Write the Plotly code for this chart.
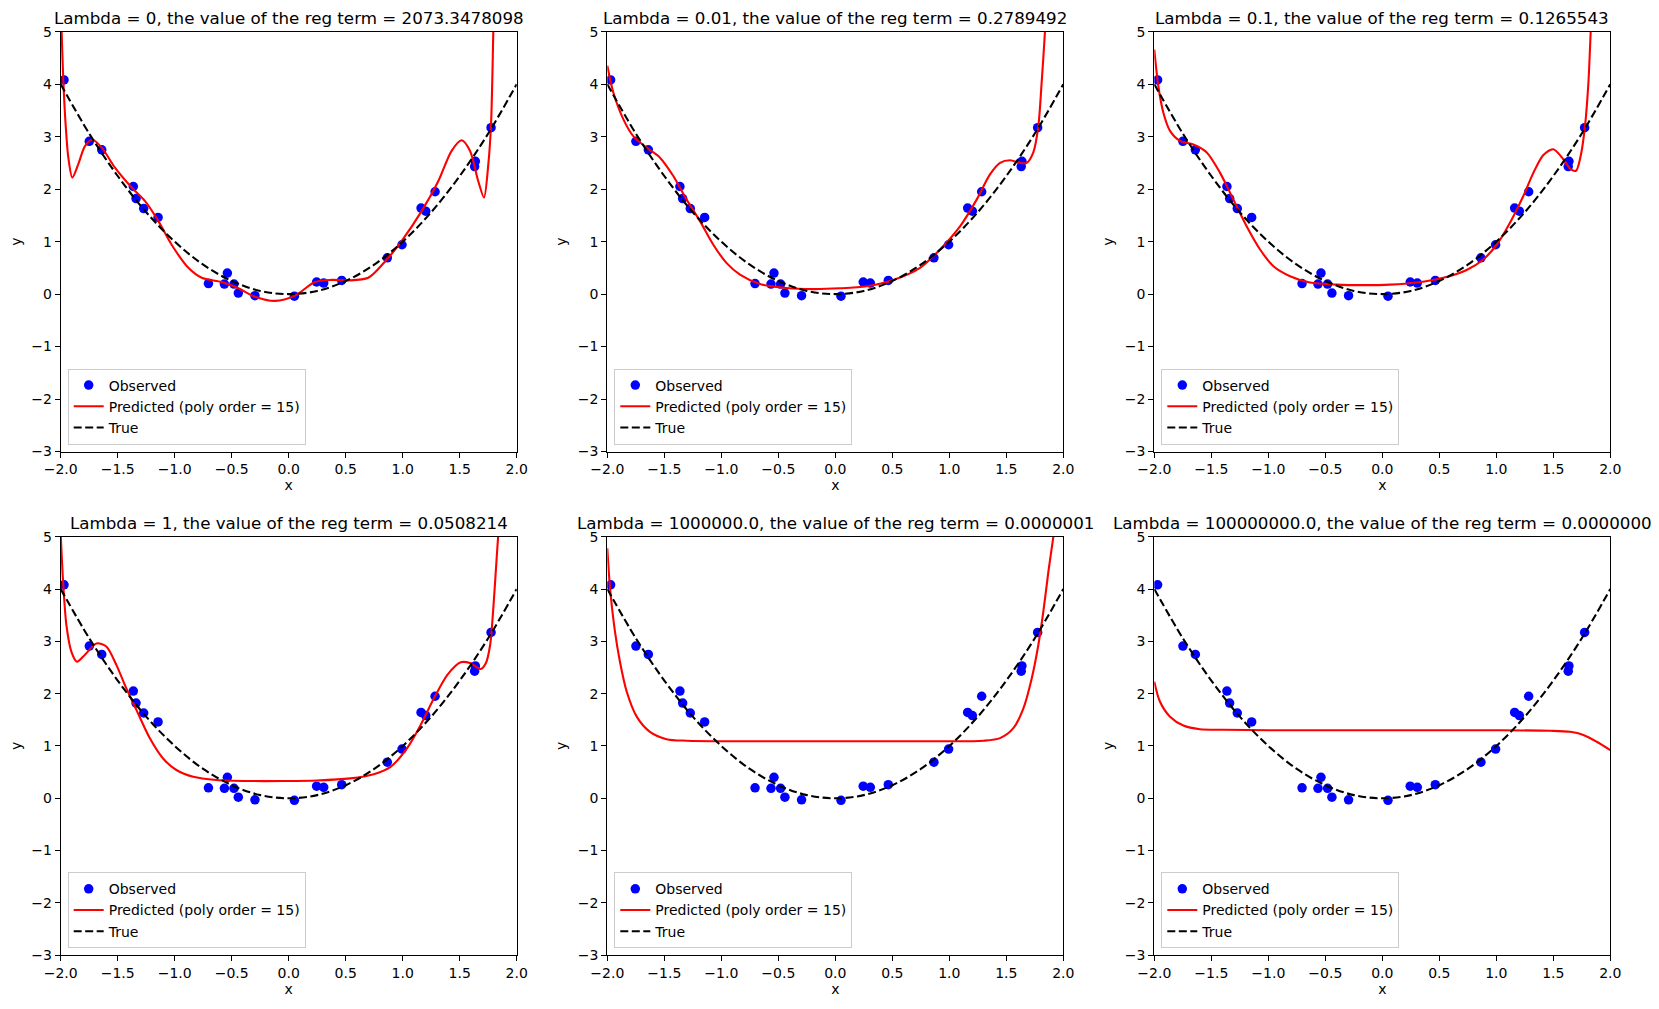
import plotly.graph_objects as go

# the page body adds an 8px margin, so the figure is drawn 8px in from the corner
OFF = 8
W, H = 1659 - OFF, 1009 - OFF

# observed points (same in every panel)
obs_x = [-1.971, -1.749, -1.64, -1.363, -1.339, -1.272, -1.146, -0.704, -0.564, -0.538, -0.48, -0.442, -0.296,
         0.05, 0.245, 0.307, 0.465, 0.865, 0.994, 1.161, 1.202, 1.284, 1.637, 1.631, 1.775]
obs_y = [4.08, 2.91, 2.75, 2.05, 1.82, 1.63, 1.46, 0.20, 0.19, 0.40, 0.19, 0.02, -0.03,
         -0.04, 0.23, 0.21, 0.26, 0.69, 0.94, 1.64, 1.58, 1.95, 2.53, 2.43, 3.17]

# true curve
true_x = [-2.0, -1.75, -1.5, -1.25, -1.0, -0.75, -0.5, -0.25, 0.0, 0.25, 0.5, 0.75, 1.0, 1.25, 1.5, 1.75, 2.0]
true_y = [4.0, 3.06, 2.25, 1.56, 1.0, 0.56, 0.25, 0.06, 0.0, 0.06, 0.25, 0.56, 1.0, 1.56, 2.25, 3.06, 4.0]

# predicted curves, one per lambda
pred1_x = [-2.0, -1.992, -1.977, -1.957, -1.933, -1.898, -1.845, -1.787, -1.722, -1.64, -1.524, -1.377, -1.26,
           -1.143, -1.027, -0.88, -0.763, -0.588, -0.442, -0.296, -0.12, 0.055, 0.23, 0.377, 0.523, 0.698, 0.845,
           0.99, 1.166, 1.312, 1.429, 1.517, 1.59, 1.663, 1.713, 1.751, 1.775, 1.795, 1.81]
pred1_y = [5.6, 5.02, 4.07, 3.24, 2.60, 2.22, 2.48, 2.82, 2.94, 2.79, 2.41, 2.03, 1.77,
           1.39, 0.94, 0.50, 0.31, 0.23, 0.11, -0.05, -0.13, -0.03, 0.23, 0.27, 0.26, 0.31, 0.62,
           1.01, 1.58, 2.15, 2.73, 2.93, 2.73, 2.15, 1.84, 2.47, 3.24, 5.02, 6.5]

pred2_x = [-2.0, -1.947, -1.859, -1.772, -1.655, -1.538, -1.421, -1.304, -1.187, -1.07, -0.953, -0.836, -0.661,
           -0.427, -0.193, 0.041, 0.275, 0.509, 0.743, 0.918, 1.094, 1.24, 1.357, 1.445, 1.533, 1.62, 1.679,
           1.737, 1.781, 1.81, 1.839, 1.85]
pred2_y = [4.35, 3.84, 3.33, 3.01, 2.79, 2.60, 2.25, 1.80, 1.39, 0.94, 0.59, 0.37, 0.19,
           0.115, 0.095, 0.11, 0.15, 0.27, 0.50, 0.85, 1.29, 1.80, 2.28, 2.50, 2.55, 2.50, 2.50,
           2.70, 3.20, 4.03, 5.0, 5.6]

pred3_x = [-2.0, -1.965, -1.921, -1.862, -1.775, -1.657, -1.54, -1.423, -1.306, -1.189, -1.072, -0.955, -0.809,
           -0.634, -0.4, -0.166, 0.068, 0.302, 0.535, 0.74, 0.886, 1.003, 1.12, 1.237, 1.325, 1.413, 1.50,
           1.588, 1.652, 1.699, 1.74, 1.778, 1.808, 1.828, 1.84]
pred3_y = [4.66, 3.97, 3.46, 3.11, 2.92, 2.85, 2.70, 2.31, 1.80, 1.29, 0.85, 0.53, 0.34,
           0.22, 0.18, 0.17, 0.18, 0.22, 0.31, 0.46, 0.66, 0.94, 1.36, 1.87, 2.31, 2.65, 2.76,
           2.57, 2.38, 2.35, 2.63, 3.20, 4.03, 5.0, 5.6]

pred4_x = [-2.0, -1.979, -1.95, -1.906, -1.857, -1.789, -1.686, -1.6, -1.512, -1.424, -1.336, -1.219, -1.102,
           -0.985, -0.838, -0.633, -0.34, -0.046, 0.248, 0.541, 0.746, 0.893, 1.039, 1.157, 1.274, 1.392,
           1.509, 1.597, 1.685, 1.729, 1.767, 1.797, 1.826, 1.84, 1.85]
pred4_y = [5.05, 4.14, 3.31, 2.80, 2.61, 2.74, 2.96, 2.90, 2.55, 2.10, 1.69, 1.15, 0.76,
           0.54, 0.41, 0.35, 0.33, 0.33, 0.34, 0.38, 0.46, 0.60, 0.96, 1.40, 1.91, 2.36,
           2.60, 2.58, 2.47, 2.58, 2.93, 3.70, 4.65, 5.1, 5.5]

pred5_x = [-2.0, -1.976, -1.933, -1.889, -1.83, -1.742, -1.626, -1.48, -1.304, -0.9, -0.4, 0.0, 0.4, 0.9,
           1.301, 1.445, 1.562, 1.65, 1.723, 1.781, 1.825, 1.869, 1.913, 1.93]
pred5_y = [4.78, 4.02, 3.19, 2.61, 2.04, 1.56, 1.27, 1.13, 1.10, 1.09, 1.09, 1.09, 1.09, 1.09,
           1.10, 1.15, 1.34, 1.72, 2.29, 2.93, 3.57, 4.33, 5.0, 5.3]

pred6_x = [-2.0, -1.951, -1.862, -1.745, -1.6, -1.394, -1.0, -0.5, 0.0, 0.5, 1.0, 1.472, 1.647, 1.764, 1.881, 2.0]
pred6_y = [2.23, 1.85, 1.56, 1.39, 1.32, 1.31, 1.30, 1.30, 1.30, 1.30, 1.30, 1.29, 1.27, 1.21, 1.08, 0.92]

titles = [
    "Lambda = 0, the value of the reg term = 2073.3478098",
    "Lambda = 0.01, the value of the reg term = 0.2789492",
    "Lambda = 0.1, the value of the reg term = 0.1265543",
    "Lambda = 1, the value of the reg term = 0.0508214",
    "Lambda = 1000000.0, the value of the reg term = 0.0000001",
    "Lambda = 100000000.0, the value of the reg term = 0.0000000",
]
preds = [(pred1_x, pred1_y), (pred2_x, pred2_y), (pred3_x, pred3_y),
         (pred4_x, pred4_y), (pred5_x, pred5_y), (pred6_x, pred6_y)]

x_ticks = [-2.0, -1.5, -1.0, -0.5, 0.0, 0.5, 1.0, 1.5, 2.0]
y_ticks = [-3, -2, -1, 0, 1, 2, 3, 4, 5]

# pixel boxes of the axes in the page (left, right) and (top, bottom)
cols = [(60.7, 516.7), (607.3, 1063.3), (1154.3, 1610.3)]
rows = [(31.7, 451.5), (536.7, 955.2)]

FONT = "DejaVu Sans"
fig = go.Figure()
layout = dict(width=W, height=H, margin=dict(l=0, r=0, t=0, b=0),
              plot_bgcolor="white", paper_bgcolor="white",
              font=dict(family=FONT, size=14, color="black"), annotations=[])

for i in range(6):
    r, c = divmod(i, 3)
    n = "" if i == 0 else str(i + 1)
    xa, ya = "x" + n, "y" + n
    lg = "legend" + n
    px_, py_ = preds[i]
    fig.add_trace(go.Scatter(x=obs_x, y=obs_y, mode="markers", name="Observed",
                             marker=dict(color="blue", size=9.5), xaxis=xa, yaxis=ya, legend=lg))
    fig.add_trace(go.Scatter(x=px_, y=py_, mode="lines", name="Predicted (poly order = 15)",
                             line=dict(color="red", width=2.1, shape="spline", smoothing=0.8),
                             xaxis=xa, yaxis=ya, legend=lg))
    fig.add_trace(go.Scatter(x=true_x, y=true_y, mode="lines", name="True",
                             line=dict(color="black", width=2.1, dash="8px,3.5px", shape="spline"),
                             xaxis=xa, yaxis=ya, legend=lg))

    l, rr = cols[c][0] - OFF, cols[c][1] - OFF
    t, b = rows[r][0] - OFF, rows[r][1] - OFF
    common = dict(showline=True, linecolor="black", linewidth=1.1, mirror=True, showgrid=False,
                  zeroline=False, ticks="outside", ticklen=5, tickwidth=1.1, tickcolor="black",
                  tickfont=dict(family=FONT, size=14, color="black"), automargin=False)
    layout["xaxis" + n] = dict(common, domain=[l / W, rr / W], range=[-2, 2], anchor=ya,
                               tickvals=x_ticks, tickformat=".1f",
                               title=dict(text="x", standoff=3, font=dict(size=14)))
    layout["yaxis" + n] = dict(common, domain=[1 - b / H, 1 - t / H], range=[-3, 5], anchor=xa,
                               tickvals=y_ticks,
                               title=dict(text="y", standoff=7, font=dict(size=14)))
    layout[lg] = dict(x=(l + 7) / W, y=1 - (b - 7) / H, xanchor="left", yanchor="bottom",
                      bgcolor="white", bordercolor="#cccccc", borderwidth=1,
                      font=dict(family=FONT, size=14, color="black"), tracegroupgap=0)
    layout["annotations"].append(dict(text=titles[i], xref="paper", yref="paper",
                                      x=(l + rr) / 2 / W, y=1 - t / H, xanchor="center", yanchor="bottom",
                                      yshift=2, showarrow=False,
                                      font=dict(family=FONT, size=16.7, color="black")))

fig.update_layout(**layout)
fig.write_html("out.html")
